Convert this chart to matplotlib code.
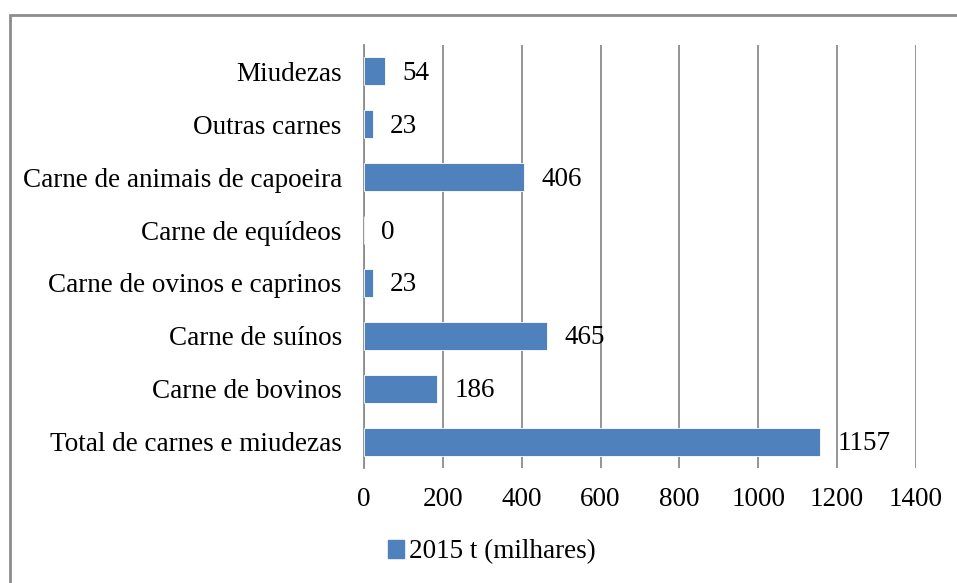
import matplotlib
matplotlib.use("Agg")
import matplotlib.pyplot as plt
from matplotlib.patches import Rectangle, Patch

plt.rcParams['font.family'] = ['Liberation Serif', 'DejaVu Serif']

categories = ["Total de carnes e miudezas", "Carne de bovinos", "Carne de suínos",
              "Carne de ovinos e caprinos", "Carne de equídeos",
              "Carne de animais de capoeira", "Outras carnes", "Miudezas"]
values = [1157, 186, 465, 23, 0, 406, 23, 54]
xticks = [0, 200, 400, 600, 800, 1000, 1200, 1400]
series_name = "2015 t (milhares)"

W, H = 957, 583
FS = 19.5
fig = plt.figure(figsize=(W/100, H/100), dpi=100)
ax = fig.add_axes([364/W, 1-468/H, 552/W, 423/H])

bar_color = "#4F81BD"
grid_color = "#8C8C8C"
ypos = list(range(len(categories)))
ax.barh(ypos, values, height=0.53, color=bar_color, edgecolor="white", linewidth=0.6, zorder=3)
for y, v in zip(ypos, values):
    ax.annotate(str(v), xy=(v, y), xytext=(17, -2), textcoords="offset pixels",
                ha="left", va="center", fontsize=FS, color="black", zorder=4)

ax.set_xlim(0, 1400)
ax.set_ylim(-0.5, len(categories) - 0.5)
ax.set_xticks(xticks)
ax.set_xticklabels([str(t) for t in xticks], fontsize=FS)
ax.set_yticks(ypos)
ax.set_yticklabels(categories, fontsize=FS)
ax.tick_params(axis="x", length=0, pad=14)
ax.tick_params(axis="y", length=0, pad=16)
ax.xaxis.grid(True, color=grid_color, linewidth=1.3, zorder=0)
for s in ["top", "right", "bottom"]:
    ax.spines[s].set_visible(False)
ax.spines["left"].set_color(grid_color)
ax.spines["left"].set_linewidth(1.3)

leg = fig.legend(handles=[Patch(color=bar_color, label=series_name)],
                 loc="center", bbox_to_anchor=(492/W, 1-552/H), frameon=False,
                 fontsize=FS, handlelength=0.6, handleheight=0.6, handletextpad=0.2)

fig.patches.append(Rectangle((10/W, -0.1), 1.2, 1 - 15/H + 0.1, transform=fig.transFigure,
                             fill=False, edgecolor="#8C8C8C", linewidth=2))

fig.savefig("out.png", dpi=100)
